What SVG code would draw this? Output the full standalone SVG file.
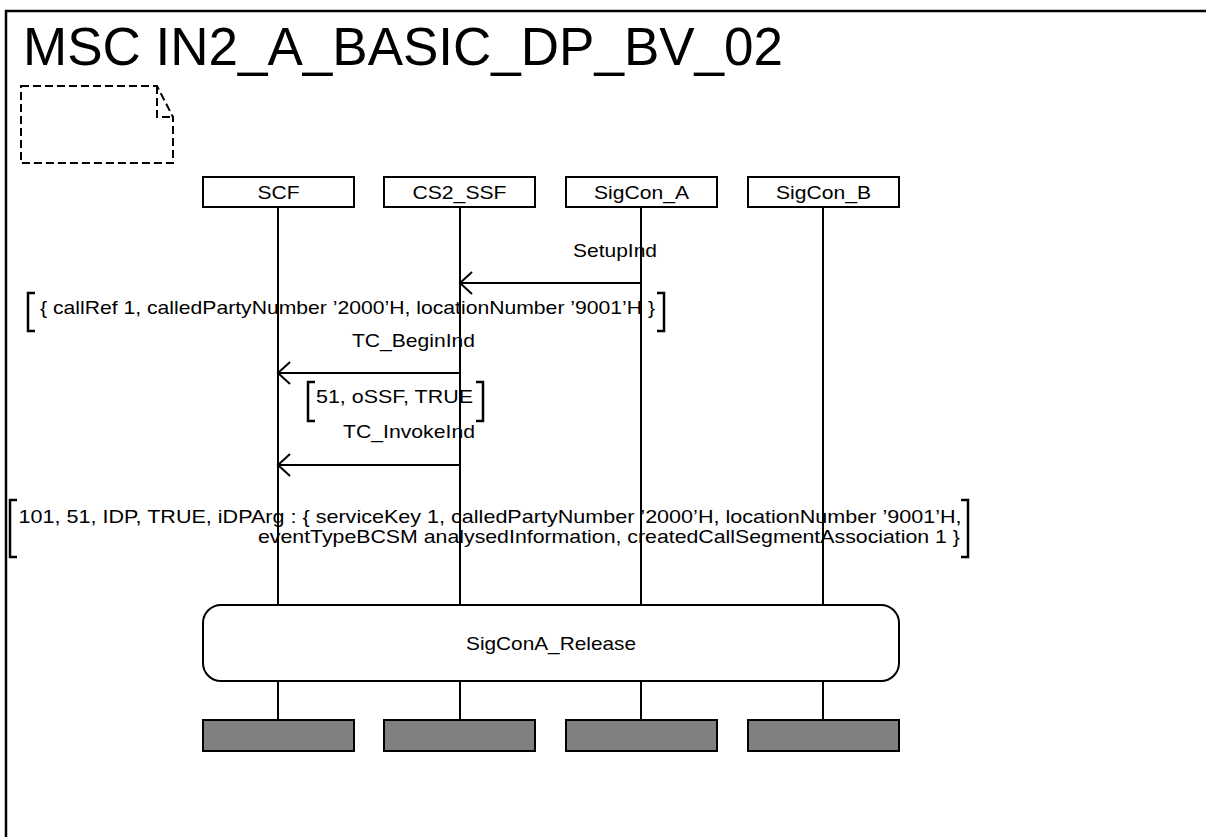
<svg xmlns="http://www.w3.org/2000/svg" width="1206" height="837" viewBox="0 0 1206 837">
<style>
  text { font-family: "Liberation Sans", Arial, sans-serif; fill: #000; }
  .lbl { font-size: 19px; }
  .hdr { fill: #fff; stroke: #000; stroke-width: 2; }
  .end { fill: #808080; stroke: #000; stroke-width: 2; }
  .life { stroke: #000; stroke-width: 2; fill: none; }
  .msg { stroke: #000; stroke-width: 2; fill: none; }
  .brk { stroke: #000; stroke-width: 2.5; fill: none; }
</style>
<rect x="0" y="0" width="1206" height="837" fill="#fff"/>
<g id="frame">
  <path d="M6,840 V11 H1210" fill="none" stroke="#000" stroke-width="2.5"/>
  <text x="23" y="65" font-size="53">MSC IN2_A_BASIC_DP_BV_02</text>
  <g id="note" fill="none" stroke="#000" stroke-width="2" stroke-dasharray="8,4">
    <path d="M21,86 H157 L173,117 V163 H21 Z"/>
    <path d="M157,86 V117 H173"/>
  </g>
</g>
<g id="lifelines">
  <path class="life" d="M278,207 V605 M278,681 V720"/>
  <path class="life" d="M460,207 V605 M460,681 V720"/>
  <path class="life" d="M641,207 V605 M641,681 V720"/>
  <path class="life" d="M823,207 V605 M823,681 V720"/>
</g>
<g id="SCF">
  <rect class="hdr" x="203" y="177" width="151" height="30"/>
  <text class="lbl" x="278.5" y="199" text-anchor="middle" textLength="42" lengthAdjust="spacingAndGlyphs">SCF</text>
  <rect class="end" x="203" y="720" width="151" height="31"/>
</g>
<g id="CS2_SSF">
  <rect class="hdr" x="384" y="177" width="151" height="30"/>
  <text class="lbl" x="459.5" y="199" text-anchor="middle" textLength="94" lengthAdjust="spacingAndGlyphs">CS2_SSF</text>
  <rect class="end" x="384" y="720" width="151" height="31"/>
</g>
<g id="SigCon_A">
  <rect class="hdr" x="566" y="177" width="151" height="30"/>
  <text class="lbl" x="641.5" y="199" text-anchor="middle" textLength="95" lengthAdjust="spacingAndGlyphs">SigCon_A</text>
  <rect class="end" x="566" y="720" width="151" height="31"/>
</g>
<g id="SigCon_B">
  <rect class="hdr" x="748" y="177" width="151" height="30"/>
  <text class="lbl" x="823.5" y="199" text-anchor="middle" textLength="95" lengthAdjust="spacingAndGlyphs">SigCon_B</text>
  <rect class="end" x="748" y="720" width="151" height="31"/>
</g>
<g id="connectors">
  <g id="m1">
    <path class="msg" d="M641,283 H460 M472,272 L460,283 L472,294"/>
    <text class="lbl" x="573" y="257" textLength="84" lengthAdjust="spacingAndGlyphs">SetupInd</text>
    <path class="brk" d="M35,293 H28 V331 H35 M657,293 H664 V331 H657"/>
    <text class="lbl" x="40" y="314" textLength="615" lengthAdjust="spacingAndGlyphs">{ callRef 1, calledPartyNumber ’2000’H, locationNumber ’9001’H }</text>
  </g>
  <g id="m2">
    <path class="msg" d="M460,373 H278 M290,362 L278,373 L290,384"/>
    <text class="lbl" x="352" y="347" textLength="123" lengthAdjust="spacingAndGlyphs">TC_BeginInd</text>
    <path class="brk" d="M315,382 H308 V421 H315 M476,382 H483 V421 H476"/>
    <text class="lbl" x="316" y="403" textLength="157" lengthAdjust="spacingAndGlyphs">51, oSSF, TRUE</text>
  </g>
  <g id="m3">
    <path class="msg" d="M460,465 H278 M290,454 L278,465 L290,476"/>
    <text class="lbl" x="343" y="438" textLength="132" lengthAdjust="spacingAndGlyphs">TC_InvokeInd</text>
    <path class="brk" d="M17,500 H10 V557 H17 M961,500 H968 V557 H961"/>
    <text class="lbl" x="18.5" y="523" textLength="943" lengthAdjust="spacingAndGlyphs">101, 51, IDP, TRUE, iDPArg : { serviceKey 1, calledPartyNumber ’2000’H, locationNumber ’9001’H,</text>
    <text class="lbl" x="258" y="543" textLength="702" lengthAdjust="spacingAndGlyphs">eventTypeBCSM analysedInformation, createdCallSegmentAssociation 1 }</text>
  </g>
</g>
<g id="SigConA_Release">
  <rect x="203" y="605" width="696" height="76" rx="18" ry="18" fill="#fff" stroke="#000" stroke-width="2"/>
  <text class="lbl" x="551" y="650" text-anchor="middle" textLength="170" lengthAdjust="spacingAndGlyphs">SigConA_Release</text>
</g>
</svg>
